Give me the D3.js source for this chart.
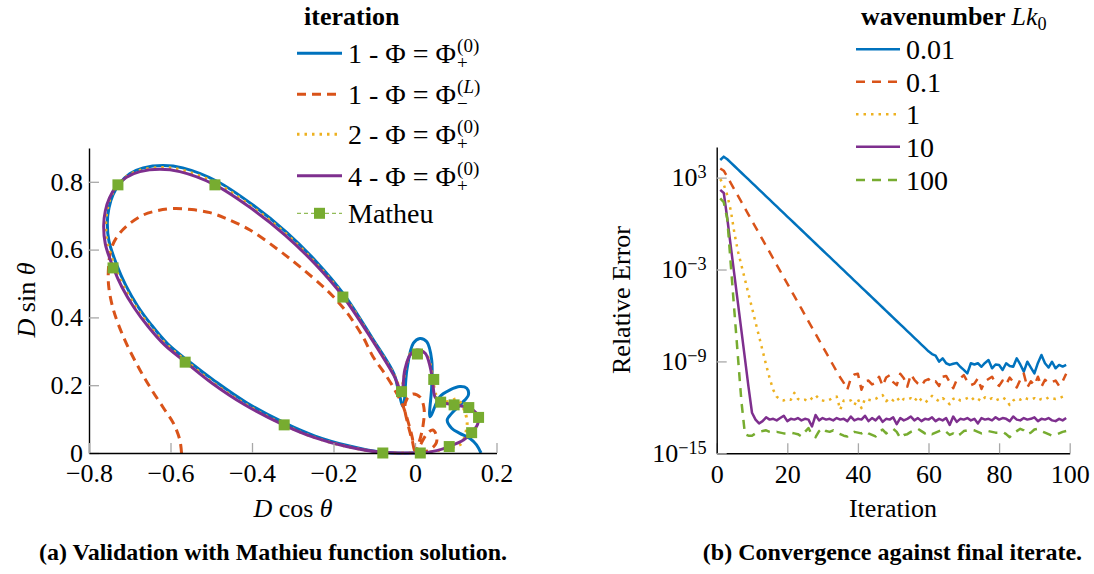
<!DOCTYPE html>
<html><head><meta charset="utf-8">
<script src="https://cdn.jsdelivr.net/npm/d3@7"></script>
<style>
body{margin:0;background:#fff}
svg{display:block}
text{font-family:"Liberation Serif","Times New Roman",serif;fill:#000;white-space:pre}
</style></head><body>
<svg id="chart" width="1094" height="574"></svg>
<script>
// ---------------- DATA: panel (a) ----------------
const xTicksA = [-0.8,-0.6,-0.4,-0.2,0,0.2];
const xTickLabelsA = ["\u22120.8","\u22120.6","\u22120.4","\u22120.2","0","0.2"];
const yTicksA = [0,0.2,0.4,0.6,0.8];
const yTickLabelsA = ["0","0.2","0.4","0.6","0.8"];

// iteration 1, Phi = Phi_+^(0)
const it1PlusX = [0.162,0.151,0.135,0.110,0.090,0.079,0.090,0.115,0.131,0.127,0.110,0.086,0.061,0.037,0.041,0.041,0.029,0.012,-0.004,-0.020,-0.029,
 -0.040,-0.051,-0.105,-0.174,-0.241,-0.315,-0.396,-0.485,-0.570,-0.618,-0.667,-0.700,-0.724,-0.741,-0.751,-0.755,-0.751,-0.731,-0.710,-0.682,-0.647,-0.607,-0.557,-0.491,-0.414,-0.319,-0.245,-0.166,-0.081,0.000];
const it1PlusY = [0.000,0.024,0.043,0.058,0.073,0.097,0.117,0.147,0.171,0.191,0.196,0.186,0.166,0.107,0.196,0.274,0.328,0.338,0.324,0.245,0.137,
 0.180,0.232,0.339,0.467,0.563,0.651,0.730,0.801,0.841,0.848,0.841,0.824,0.796,0.762,0.723,0.679,0.625,0.552,0.495,0.436,0.378,0.322,0.272,0.212,0.149,0.088,0.050,0.022,0.002,0.000];

// iteration 1, Phi = Phi_-^(L)
const it1MinusX = [-0.573,-0.577,-0.593,-0.614,-0.646,-0.675,-0.712,-0.740,-0.752,-0.751,-0.744,-0.728,-0.704,-0.667,-0.631,-0.593,-0.548,-0.503,-0.466,-0.405,-0.335,-0.282,-0.217,-0.172,-0.128,-0.103,-0.069,-0.045,-0.029,-0.016,-0.007,0.000,0.010,0.020,0.022,0.012,-0.005,-0.020,-0.025,-0.017,-0.007,0.002,0.022,0.039,0.052,0.053,0.044,0.029,0.012,0.002];
const it1MinusY = [0.000,0.038,0.088,0.127,0.186,0.245,0.333,0.422,0.496,0.563,0.608,0.643,0.673,0.702,0.715,0.721,0.718,0.709,0.693,0.658,0.599,0.549,0.481,0.422,0.343,0.284,0.225,0.176,0.137,0.088,0.047,0.006,0.032,0.083,0.133,0.165,0.174,0.159,0.133,0.083,0.038,0.003,0.003,0.012,0.029,0.050,0.068,0.056,0.021,0.000];

// iteration 2, Phi = Phi_+^(0)
const it2PlusX = [0.000,0.037,0.074,0.103,0.115,0.123,0.128,0.125,0.115,0.103,0.086,0.066,0.052,0.044,0.039,0.027,0.007,-0.010,-0.022,-0.029,-0.034,
 -0.051,-0.106,-0.175,-0.243,-0.317,-0.399,-0.488,-0.574,-0.622,-0.671,-0.705,-0.729,-0.746,-0.755,-0.759,-0.755,-0.736,-0.715,-0.686,-0.651,-0.610,-0.561,-0.494,-0.416,-0.321,-0.247,-0.167,-0.082,0.000];
const it2PlusY = [0.000,0.003,0.012,0.021,0.029,0.053,0.086,0.112,0.142,0.159,0.153,0.153,0.171,0.215,0.254,0.292,0.304,0.295,0.257,0.209,0.186,
 0.230,0.337,0.464,0.559,0.647,0.725,0.796,0.835,0.842,0.835,0.818,0.791,0.757,0.718,0.674,0.621,0.548,0.492,0.433,0.375,0.320,0.271,0.206,0.144,0.083,0.046,0.019,0.002,0.000];

// iteration 4, Phi = Phi_+^(0)
const it4PlusX = [0.000,0.013,0.053,0.084,0.119,0.139,0.153,0.156,0.151,0.132,0.096,0.061,0.049,0.043,0.037,0.025,0.006,-0.012,-0.025,-0.033,
 -0.052,-0.106,-0.176,-0.244,-0.319,-0.401,-0.491,-0.577,-0.626,-0.675,-0.709,-0.733,-0.750,-0.760,-0.764,-0.760,-0.740,-0.719,-0.690,-0.655,-0.614,-0.564,-0.497,-0.419,-0.323,-0.248,-0.168,-0.082,0.000];
const it4PlusY = [0.000,0.000,0.007,0.019,0.038,0.060,0.083,0.105,0.117,0.134,0.142,0.151,0.166,0.215,0.255,0.294,0.304,0.289,0.245,0.181,
 0.229,0.335,0.461,0.556,0.643,0.721,0.791,0.830,0.837,0.830,0.813,0.786,0.752,0.714,0.670,0.617,0.545,0.489,0.430,0.373,0.318,0.269,0.205,0.143,0.083,0.046,0.019,0.002,0.000];

// Mathieu function solution
const matheuX = [-0.729,-0.491,-0.741,-0.177,-0.564,-0.321,-0.079,-0.033,0.006,0.046,0.063,0.096,0.132,0.156,0.139,0.084,0.013];
const matheuY = [0.791,0.791,0.546,0.460,0.268,0.083,0.000,0.181,0.292,0.217,0.150,0.142,0.134,0.105,0.060,0.019,0.000];

const legendA = [
  {main:"1 - \u03A6 = \u03A6", sup:"(0)", sub:"+"},
  {main:"1 - \u03A6 = \u03A6", sup:"(L)", sub:"\u2212"},
  {main:"2 - \u03A6 = \u03A6", sup:"(0)", sub:"+"},
  {main:"4 - \u03A6 = \u03A6", sup:"(0)", sub:"+"},
  {main:"Matheu"}
];

// ---------------- DATA: panel (b) ----------------
const xTicksB = [0,20,40,60,80,100];
const yTicksB = [1e3,1e-3,1e-9,1e-15];
const yTickExpB = ["3","\u22123","\u22129","\u221215"];
const wavenumbers = ["0.01","0.1","1","10","100"];
const iterations = d3.range(1,100);

// log10 of relative error, iterations 1..99
const errK001 = [4.15,4.37,4.20,3.98,3.76,3.54,3.32,3.10,2.88,2.66,
 2.44,2.22,2.00,1.78,1.56,1.34,1.12,0.90,0.68,0.46,
 0.24,0.02,-0.20,-0.42,-0.64,-0.86,-1.08,-1.30,-1.52,-1.74,
 -1.96,-2.18,-2.40,-2.62,-2.84,-3.06,-3.28,-3.50,-3.72,-3.94,
 -4.16,-4.38,-4.60,-4.82,-5.04,-5.26,-5.48,-5.70,-5.92,-6.14,
 -6.36,-6.58,-6.80,-7.02,-7.24,-7.46,-7.68,-7.90,-8.12,-8.34,
 -8.52,-8.62,-9.02,-8.80,-9.12,-9.23,-9.15,-9.10,-9.35,-9.55,
 -9.78,-9.12,-9.20,-9.12,-9.35,-9.10,-8.91,-9.45,-9.20,-9.23,
 -9.56,-9.12,-9.30,-9.35,-8.80,-9.20,-9.67,-9.02,-9.40,-9.78,
 -9.10,-8.58,-9.12,-9.40,-9.02,-9.45,-9.23,-9.34,-9.23];
const errK01 = [3.60,3.45,3.05,2.64,2.23,1.82,1.41,1.00,0.59,0.18,
 -0.23,-0.64,-1.05,-1.46,-1.87,-2.28,-2.69,-3.10,-3.51,-3.92,
 -4.33,-4.74,-5.15,-5.56,-5.97,-6.38,-6.79,-7.20,-7.61,-8.02,
 -8.43,-8.84,-9.25,-9.66,-10.05,-10.40,-10.85,-10.10,-9.85,-9.80,
 -10.85,-10.30,-10.25,-10.50,-10.40,-10.00,-10.60,-10.05,-9.90,-10.35,
 -10.55,-9.80,-10.10,-10.65,-9.85,-10.20,-10.45,-10.60,-10.25,-10.15,
 -10.40,-10.30,-10.60,-10.00,-9.95,-10.35,-10.75,-10.20,-10.10,-9.90,
 -10.30,-10.55,-10.45,-10.10,-10.80,-10.30,-10.15,-10.00,-10.40,-10.60,
 -10.25,-10.50,-10.05,-10.35,-10.70,-10.20,-9.80,-10.70,-10.30,-10.55,
 -10.00,-10.65,-10.20,-10.40,-10.35,-10.25,-10.60,-10.30,-9.80];
const errK1 = [2.90,2.55,1.85,0.85,-0.60,-1.80,-2.72,-3.65,-4.58,-5.50,
 -6.45,-7.37,-8.30,-9.22,-10.10,-10.85,-11.30,-11.50,-11.55,-11.45,
 -11.50,-11.05,-11.45,-11.55,-11.50,-11.60,-11.40,-11.20,-11.45,-11.55,
 -11.60,-11.50,-11.35,-11.30,-12.15,-11.55,-11.50,-11.55,-11.85,-11.45,
 -12.05,-11.45,-11.50,-11.55,-11.45,-11.30,-11.20,-11.60,-11.40,-11.55,
 -11.35,-11.65,-11.45,-11.50,-11.40,-11.60,-11.30,-11.55,-11.70,-11.50,
 -11.25,-11.45,-11.60,-11.40,-11.55,-11.80,-11.45,-11.35,-11.55,-11.50,
 -11.40,-11.30,-11.55,-11.45,-11.60,-11.35,-11.50,-11.40,-11.55,-11.45,
 -11.35,-11.50,-11.85,-11.55,-11.40,-11.50,-11.35,-11.45,-11.50,-11.40,
 -11.55,-11.45,-11.50,-11.35,-11.40,-11.45,-11.40,-11.30,-11.20];
const errK10 = [2.20,2.00,0.33,-1.50,-3.33,-5.16,-6.99,-8.82,-10.65,-12.35,
 -12.80,-13.05,-12.90,-12.65,-12.80,-12.75,-12.85,-12.70,-12.55,-12.90,
 -12.75,-12.80,-12.70,-12.85,-12.75,-12.80,-13.25,-12.50,-12.85,-12.70,
 -12.80,-12.75,-12.85,-12.70,-12.80,-12.75,-12.90,-12.60,-12.85,-12.75,
 -12.80,-12.55,-12.90,-12.70,-12.85,-12.60,-12.95,-12.75,-12.80,-12.65,
 -13.10,-12.70,-12.85,-12.75,-12.60,-12.85,-12.70,-12.90,-12.75,-12.80,
 -12.65,-12.90,-12.75,-12.85,-12.70,-13.15,-12.60,-12.95,-12.75,-12.80,
 -12.70,-12.85,-12.75,-13.05,-12.70,-12.80,-12.75,-12.85,-12.65,-12.80,
 -12.70,-12.75,-12.90,-12.60,-12.80,-12.85,-12.70,-12.80,-12.75,-12.65,
 -12.90,-12.75,-12.80,-12.70,-12.85,-12.90,-12.75,-12.85,-12.70];
const errK100 = [1.65,1.40,0.30,-2.70,-5.70,-8.65,-11.60,-13.75,-13.85,-13.85,
 -13.70,-13.60,-13.55,-13.50,-13.60,-13.65,-13.60,-13.65,-13.70,-13.70,
 -13.65,-13.70,-13.75,-13.90,-13.60,-13.35,-13.80,-13.95,-13.55,-13.35,
 -13.55,-13.60,-13.50,-13.65,-13.75,-13.85,-13.90,-13.70,-13.60,-13.65,
 -13.70,-13.55,-13.70,-13.80,-13.90,-13.60,-13.45,-13.70,-13.55,-13.40,
 -13.60,-14.00,-13.80,-13.75,-13.60,-13.50,-13.40,-13.55,-13.70,-13.60,
 -13.75,-13.65,-13.55,-13.45,-13.60,-13.80,-13.70,-13.90,-13.75,-13.55,
 -13.50,-13.45,-13.50,-13.60,-13.70,-13.65,-13.55,-13.60,-13.65,-13.65,
 -13.60,-13.75,-13.95,-13.70,-13.55,-13.40,-13.50,-13.75,-13.65,-13.45,
 -13.40,-13.55,-13.65,-13.75,-13.85,-13.80,-13.70,-13.60,-13.55];

// ---------------- STYLES ----------------
const C = {blue:"#0072BD", orange:"#D95319", yellow:"#EDB120", purple:"#7E2F8E", green:"#77AC30"};
const FS_TICK = 26, FS_LEG = 28, FS_LAB = 26, FS_CAP = 24;

const svg = d3.select("#chart");

function putSegs(g, segs, x, y, fs){
  let cx = x;
  segs.forEach(s => {
    const t = g.append("text").attr("x", cx).attr("y", y).attr("font-size", fs)
      .style("font-style", s.i ? "italic" : "normal").style("font-weight", s.b ? "bold" : "normal").text(s.t);
    cx += t.node().getComputedTextLength();
  });
  return cx - x;
}
function scriptSegs(str){
  const out = [];
  for (const ch of str) out.push({t:ch, i:/[A-Za-z]/.test(ch)});
  return out;
}
function styleAxis(g, fs){
  g.attr("font-family", null).attr("font-size", null);
  g.select(".domain").attr("stroke","#000").attr("stroke-width",1.4);
  g.selectAll(".tick line").attr("stroke","#a8a8a8").attr("stroke-width",1.3);
  g.selectAll(".tick text").attr("font-size", fs).attr("fill","#000");
}

// ================= PANEL (a) =================
const xA = d3.scaleLinear().domain([-0.8,0.2]).range([89,496.5]);
const yA = d3.scaleLinear().domain([0,0.9]).range([453,147.9]);
const lineA = d3.line().x(d=>xA(d[0])).y(d=>yA(d[1])).curve(d3.curveCatmullRom.alpha(0.5));
const zipA = (X,Y)=>X.map((v,i)=>[v,Y[i]]);

const gxA = svg.append("g").attr("transform","translate(0,453)")
  .call(d3.axisBottom(xA).tickValues(xTicksA).tickFormat((d,i)=>xTickLabelsA[i]).tickSizeInner(-10).tickSizeOuter(0).tickPadding(11));
styleAxis(gxA, FS_TICK);
const gyA = svg.append("g").attr("transform","translate(89,0)")
  .call(d3.axisLeft(yA).tickValues(yTicksA).tickFormat((d,i)=>yTickLabelsA[i]).tickSizeInner(-10).tickSizeOuter(0).tickPadding(6));
styleAxis(gyA, FS_TICK);

const gA = svg.append("g");
const seriesA = [
  {x:it1PlusX, y:it1PlusY, c:C.blue, w:3, dash:null},
  {x:it1MinusX, y:it1MinusY, c:C.orange, w:3, dash:"9,6"},
  {x:it2PlusX, y:it2PlusY, c:C.yellow, w:3, dash:"2.5,5"},
  {x:it4PlusX, y:it4PlusY, c:C.purple, w:3, dash:null}
];
seriesA.forEach(s => {
  gA.append("path").attr("d", lineA(zipA(s.x,s.y))).attr("fill","none")
    .attr("stroke", s.c).attr("stroke-width", s.w).attr("stroke-dasharray", s.dash)
    .attr("stroke-linejoin","round");
});
svg.node().appendChild(gxA.node());
const SQ = 11;
svg.append("g").selectAll("rect").data(zipA(matheuX, matheuY)).join("rect")
  .attr("x", d=>xA(d[0])-SQ/2).attr("y", d=>yA(d[1])-SQ/2).attr("width",SQ).attr("height",SQ)
  .attr("fill", C.green);

svg.append("text").attr("transform","translate(35,300) rotate(-90)").attr("text-anchor","middle").attr("font-size",FS_LAB)
  .call(t=>{t.append("tspan").style("font-style","italic").text("D");t.append("tspan").text(" sin ");t.append("tspan").style("font-style","italic").text("\u03B8");});
svg.append("text").attr("x",293).attr("y",517).attr("text-anchor","middle").attr("font-size",FS_LAB)
  .call(t=>{t.append("tspan").style("font-style","italic").text("D");t.append("tspan").text(" cos ");t.append("tspan").style("font-style","italic").text("\u03B8");});

// legend (a)
const legA = svg.append("g");
legA.append("text").attr("x",351.7).attr("y",25).attr("text-anchor","middle")
  .attr("font-size",FS_LAB).attr("font-weight","bold").text("iteration");
const rowYA = [53.3, 94.3, 134.3, 175.7, 213.3];
const legStyleA = [
  {c:C.blue, dash:null, w:3}, {c:C.orange, dash:"9,6", w:3}, {c:C.yellow, dash:"2.5,5", w:3}, {c:C.purple, dash:null, w:3},
  {c:C.green, dash:"4,3", w:1, marker:true}
];
legendA.forEach((L,i)=>{
  const y = rowYA[i], st = legStyleA[i];
  legA.append("line").attr("x1",297).attr("x2",342).attr("y1",y).attr("y2",y)
    .attr("stroke",st.c).attr("stroke-width",st.w).attr("stroke-dasharray",st.dash);
  if (st.marker) legA.append("rect").attr("x",319.5-SQ/2).attr("y",y-SQ/2).attr("width",SQ).attr("height",SQ).attr("fill",st.c);
  const base = y + 10;
  const w = putSegs(legA, [{t:L.main}], 348, base, FS_LEG);
  if (L.sup) {
    const fs2 = FS_LEG*0.68;
    putSegs(legA, scriptSegs(L.sup), 348+w+1, base-11, fs2);
    putSegs(legA, scriptSegs(L.sub), 348+w+1, base+6, fs2);
  }
});

// ================= PANEL (b) =================
const xB = d3.scaleLinear().domain([0,100]).range([716.7,1069.7]);
const yB = d3.scaleLog().domain([1e-15,1e5]).range([453.3,147.0]);
const lineB = d3.line().x(d=>xB(d[0])).y(d=>yB(Math.pow(10,d[1])));
const seriesB = [
  {v:errK001, c:C.blue, dash:null},
  {v:errK01, c:C.orange, dash:"9,7"},
  {v:errK1, c:C.yellow, dash:"2.5,5"},
  {v:errK10, c:C.purple, dash:null},
  {v:errK100, c:C.green, dash:"9,7"}
];
const gxB = svg.append("g").attr("transform","translate(0,453.3)")
  .call(d3.axisBottom(xB).tickValues(xTicksB).tickFormat(d3.format("d")).tickSizeInner(-10).tickSizeOuter(0).tickPadding(11));
styleAxis(gxB, FS_TICK);
const gyB = svg.append("g").attr("transform","translate(716.7,0)")
  .call(d3.axisLeft(yB).tickValues(yTicksB).tickFormat(()=>"").tickSizeInner(-10).tickSizeOuter(0).tickPadding(10));
styleAxis(gyB, FS_TICK);
gyB.selectAll(".tick text").each(function(d,i){
  const t = d3.select(this);
  t.append("tspan").text("10");
  t.append("tspan").attr("dy","-0.45em").attr("font-size",FS_TICK*0.7).text(yTickExpB[i]);
});
const gB = svg.append("g");
seriesB.forEach(s=>{
  gB.append("path").attr("d", lineB(iterations.map((it,i)=>[it, s.v[i]]))).attr("fill","none")
    .attr("stroke",s.c).attr("stroke-width",2.5).attr("stroke-dasharray",s.dash).attr("stroke-linejoin","round");
});

svg.append("text").attr("transform","translate(630,300) rotate(-90)").attr("text-anchor","middle").attr("font-size",FS_LAB).text("Relative Error");
svg.append("text").attr("x",893).attr("y",517).attr("text-anchor","middle").attr("font-size",FS_LAB).text("Iteration");

// legend (b)
const legB = svg.append("g");
const tB = legB.append("g");
let wT = putSegs(tB, [{t:"wavenumber ", b:true}], 0, 25, FS_LAB);
wT += putSegs(tB, [{t:"Lk", i:true}], wT, 25, FS_LAB);
wT += putSegs(tB, [{t:"0"}], wT, 30, FS_LAB*0.7);
tB.attr("transform", "translate(861,0)");
const rowYB = [49.3, 81.7, 114.3, 146.7, 180];
wavenumbers.forEach((k,i)=>{
  const s = seriesB[i], y = rowYB[i];
  legB.append("line").attr("x1",856).attr("x2",900).attr("y1",y).attr("y2",y)
    .attr("stroke",s.c).attr("stroke-width",2.5).attr("stroke-dasharray",s.dash);
  legB.append("text").attr("x",906).attr("y",y+10).attr("font-size",FS_LEG).text(k);
});

// captions
svg.append("text").attr("x",273).attr("y",560).attr("text-anchor","middle").attr("font-size",FS_CAP).attr("font-weight","bold")
  .text("(a) Validation with Mathieu function solution.");
svg.append("text").attr("x",892.5).attr("y",560).attr("text-anchor","middle").attr("font-size",FS_CAP).attr("font-weight","bold")
  .text("(b) Convergence against final iterate.");
</script>
</body></html>
